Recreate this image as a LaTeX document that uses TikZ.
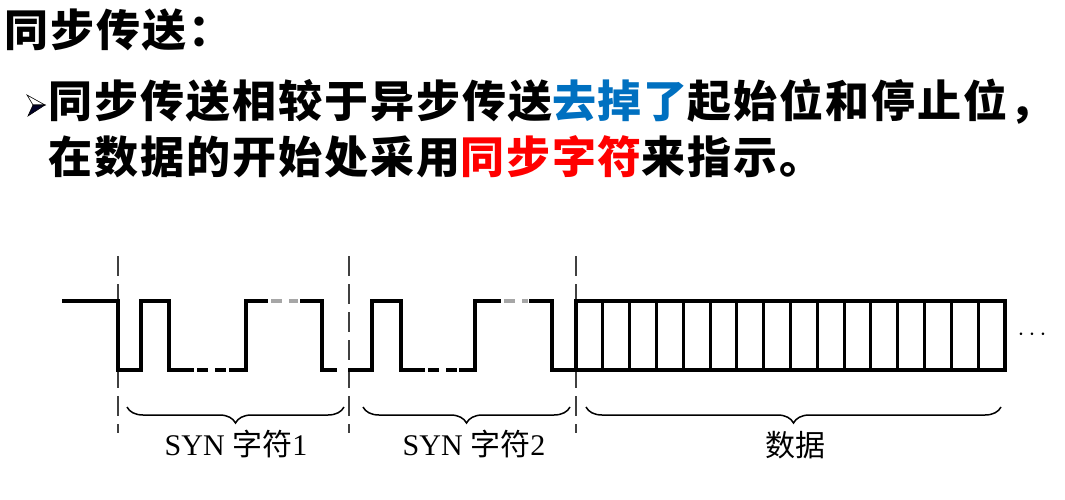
\documentclass[tikz,border=0pt]{standalone}
\usepackage{fontspec}
\setmainfont{Liberation Serif}
\newfontfamily\cjk[LetterSpace=4.5]{Noto Sans CJK SC}
\newfontfamily\cjklab{Noto Sans CJK SC}
\usetikzlibrary{decorations.pathreplacing}
\definecolor{cblue}{RGB}{0,112,192}
\definecolor{cred}{RGB}{255,0,0}
\begin{document}
\begin{tikzpicture}[x=1pt,y=-1pt,
  head/.style={anchor=base west, inner sep=0, font=\cjk\bfseries\fontsize{44}{50}\selectfont},
  wave/.style={line width=3.4pt, line join=miter, line cap=rect},
  gapblack/.style={line width=3.4pt, dash pattern=on 11pt off 7pt},
  gapgray/.style={line width=3.4pt, gray!70, dash pattern=on 11pt off 7pt},
  sepline/.style={line width=1.6pt, gray!50!black, dash pattern=on 20pt off 8pt},
  brc/.style={decorate, decoration={brace, mirror, amplitude=16pt}, line width=1.5pt},
  lab/.style={anchor=base, inner sep=0, font=\fontsize{30}{32}\selectfont},
  dots/.style={inner sep=0, font=\fontsize{26}{28}\selectfont}
]
\useasboundingbox (0,0) rectangle (1065,500);
\fill[white] (0,0) rectangle (1065,500);

% heading text
\node[head] (title) at (4,47) {同步传送：};
\node[head] (line1) at (48,118) {同步传送相较于异步传送{\color{cblue}去掉了}起始位和停止位，};
\node[head] (line2) at (48,173) {在数据的开始处采用{\color{cred}同步字符}来指示。};

% bullet arrowhead
\filldraw[fill=white, draw=black, line width=0.6pt] (27,95) -- (45,105) -- (33,105) -- cycle;
\filldraw[fill=black!85!blue, draw=black, line width=0.6pt] (33,105) -- (45,105) -- (28,116) -- cycle;

% separators
\coordinate (s1t) at (118,256); \coordinate (s1b) at (118,433);
\coordinate (s2t) at (349,256); \coordinate (s2b) at (349,433);
\coordinate (s3t) at (576,256); \coordinate (s3b) at (576,433);
\draw[sepline] (s1t) -- (s1b);
\draw[sepline] (s2t) -- (s2b);
\draw[sepline] (s3t) -- (s3b);

% SYN character 1
\draw[wave] (64,301) -- (118,301) -- (118,370) -- (141,370) -- (141,301) -- (169,301) -- (169,370) -- (192,370);
\draw[gapblack] (197,370) -- (227,370);
\draw[wave] (231,370) -- (246,370) -- (246,301) -- (266,301);
\draw[gapgray] (271,301) -- (298,301);
\draw[wave] (302,301) -- (322,301) -- (322,370) -- (335,370);

% SYN character 2
\draw[wave] (350,370) -- (372,370) -- (372,301) -- (401,301) -- (401,370) -- (423,370);
\draw[gapblack] (428,370) -- (457,370);
\draw[wave] (461,370) -- (475,370) -- (475,301) -- (499,301);
\draw[gapgray] (504,301) -- (528,301);
\draw[wave] (531,301) -- (552,301) -- (552,370) -- (576,370);

% data block
\draw[wave] (576,301) rectangle (1005,370);
\foreach \k in {1,...,15} {
  \draw[line width=3pt] ({576+\k*26.8125},301) -- ({576+\k*26.8125},370);
}
\node[dots] (more) at (1032,335) {$\cdots$};

% braces
\coordinate (b1l) at (127,407); \coordinate (b1r) at (344,407);
\coordinate (b2l) at (363,407); \coordinate (b2r) at (570,407);
\coordinate (b3l) at (586,407); \coordinate (b3r) at (1001,407);
\draw[brc] (b1l) -- (b1r);
\draw[brc] (b2l) -- (b2r);
\draw[brc] (b3l) -- (b3r);

% labels
\node[lab] (lab1) at (236,455) {SYN {\cjklab 字符}1};
\node[lab] (lab2) at (474,455) {SYN {\cjklab 字符}2};
\node[lab] (lab3) at (795,456) {\cjklab 数据};
\end{tikzpicture}
\end{document}
